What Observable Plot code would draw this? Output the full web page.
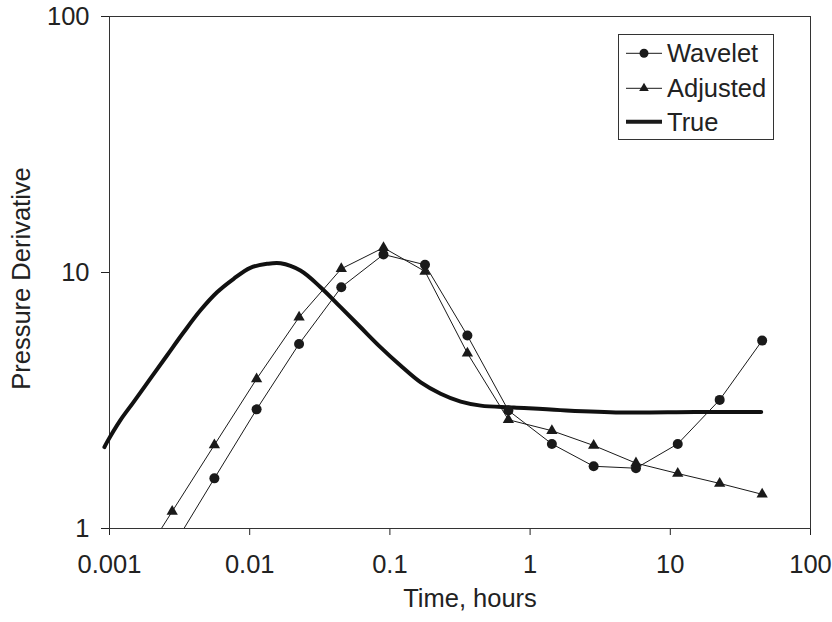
<!DOCTYPE html>
<html><head><meta charset="utf-8">
<script src="https://cdn.jsdelivr.net/npm/d3@7"></script>
<script src="https://cdn.jsdelivr.net/npm/@observablehq/plot@0.6"></script>
<style>body{margin:0;background:#fff}</style>
</head><body><div id="chart"></div>
<script>
// Data
const time = [0.0014, 0.0028, 0.0056, 0.0112, 0.0225, 0.045, 0.09, 0.178, 0.357, 0.70, 1.43, 2.84, 5.69, 11.3, 22.5, 45.2];
const wavelet = [null, 0.84, 1.57, 2.92, 5.26, 8.76, 11.76, 10.72, 5.67, 2.89, 2.14, 1.75, 1.72, 2.14, 3.18, 5.42];
const adjusted = [0.64, 1.166, 2.12, 3.84, 6.69, 10.34, 12.5, 10.1, 4.84, 2.66, 2.41, 2.11, 1.80, 1.64, 1.50, 1.36];
const trueTime = [0.00092, 0.000958, 0.00119, 0.00148, 0.00195, 0.00257, 0.00338, 0.00444, 0.00585, 0.00769, 0.0101, 0.0133, 0.0166, 0.023, 0.032, 0.0445, 0.0618, 0.0859, 0.119, 0.166, 0.230, 0.320, 0.445, 0.766, 1.64, 4.44, 15, 44.5];
const trueValue = [2.08, 2.17, 2.64, 3.11, 3.84, 4.74, 5.84, 7.10, 8.37, 9.45, 10.43, 10.81, 10.87, 10.18, 8.76, 7.32, 6.11, 5.10, 4.33, 3.72, 3.36, 3.13, 3.02, 2.97, 2.90, 2.84, 2.85, 2.85];
const xTicks = [0.001, 0.01, 0.1, 1, 10, 100];
const xTickLabels = ["0.001", "0.01", "0.1", "1", "10", "100"];
const yTicks = [1, 10, 100];
const yTickLabels = ["1", "10", "100"];
const seriesNames = ["Wavelet", "Adjusted", "True"];
const xTitle = "Time, hours";
const yTitle = "Pressure Derivative";

const W = time.map((t, i) => ({t, v: wavelet[i]})).filter(d => d.v != null);
const A = time.map((t, i) => ({t, v: adjusted[i]})).filter(d => d.v != null);
const T = trueTime.map((t, i) => ({t, v: trueValue[i]}));

const ink = "#1a1a1a";
const font = "'Liberation Sans', Arial, sans-serif";
const chart = Plot.plot({
  width: 832, height: 622,
  marginLeft: 109, marginRight: 22, marginTop: 16, marginBottom: 94,
  style: {fontFamily: font, fontSize: "25.5px", color: "#222", background: "#fff"},
  x: {type: "log", domain: [0.001, 100], ticks: xTicks, tickFormat: d => xTickLabels[xTicks.indexOf(d)], tickSize: 7, tickPadding: 19, label: null},
  y: {type: "log", domain: [1, 100], ticks: yTicks, tickFormat: d => yTickLabels[yTicks.indexOf(d)], tickSize: 8, tickPadding: 12, label: null},
  marks: [
    Plot.frame({stroke: "#333", strokeWidth: 1}),
    Plot.line(W, {x: "t", y: "v", stroke: ink, strokeWidth: 1, clip: true}),
    Plot.line(A, {x: "t", y: "v", stroke: ink, strokeWidth: 1, clip: true}),
    Plot.line(T, {x: "t", y: "v", stroke: "#111", strokeWidth: 4, curve: "catmull-rom"}),
    Plot.dot(W, {x: "t", y: "v", r: 5, fill: ink, stroke: "none", clip: true}),
    Plot.dot(A, {x: "t", y: "v", r: 4.2, symbol: "triangle", fill: ink, stroke: "none", clip: true}),
    Plot.text([xTitle], {text: d => d, frameAnchor: "bottom", textAnchor: "middle", lineAnchor: "middle", dx: 10, dy: 70, fill: "#222"}),
    Plot.text([yTitle], {text: d => d, frameAnchor: "left", textAnchor: "middle", lineAnchor: "middle", dx: -88, dy: 6, rotate: -90, fill: "#222"})
  ]
});
document.getElementById("chart").appendChild(chart);

// Legend
const svg = d3.select(chart);
const lg = svg.append("g").attr("font-family", font).attr("font-size", 25.5).attr("fill", "#222").attr("text-anchor", "start");
lg.append("rect").attr("x", 618.5).attr("y", 34.5).attr("width", 155).attr("height", 105).attr("fill", "#fff").attr("stroke", "#333");
const rowsY = [53.3, 88.3, 121.7];
seriesNames.forEach((name, i) => {
  const y = rowsY[i];
  lg.append("line").attr("x1", 626).attr("x2", 662).attr("y1", y).attr("y2", y).attr("stroke", ink).attr("stroke-width", i === 2 ? 4 : 1);
  if (i === 0) lg.append("circle").attr("cx", 644).attr("cy", y).attr("r", 4.5).attr("fill", ink);
  if (i === 1) lg.append("path").attr("transform", `translate(644,${y})`).attr("d", d3.symbol(d3.symbolTriangle, 40)()).attr("fill", ink);
  lg.append("text").attr("x", 667).attr("y", y).attr("dy", "0.35em").attr("text-anchor", "start").text(name);
});
</script>
</body></html>
